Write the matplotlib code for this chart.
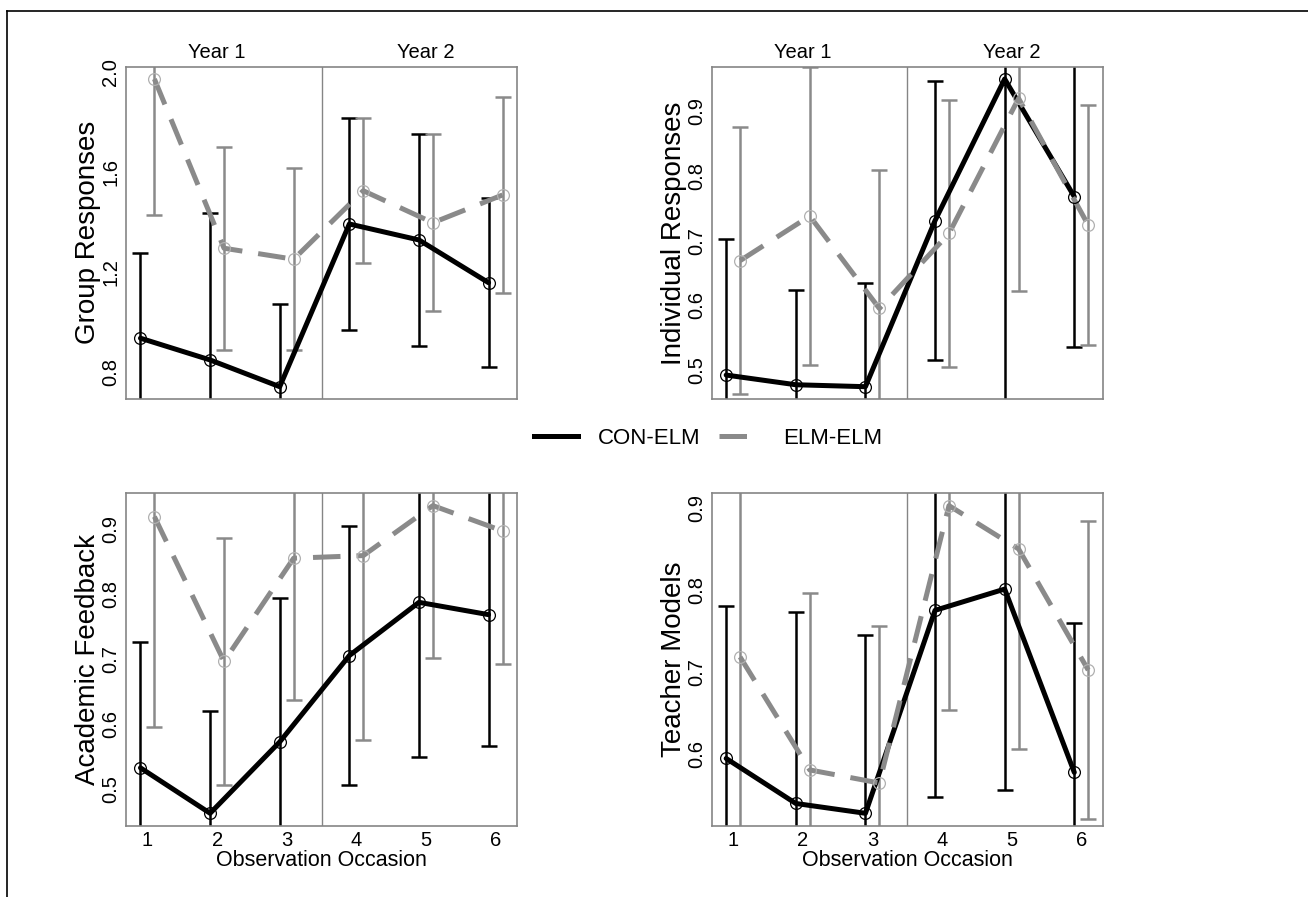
import numpy as np
import matplotlib
matplotlib.use('Agg')
import matplotlib.pyplot as plt
import matplotlib.transforms as mtransforms
from matplotlib.lines import Line2D

plt.rcParams['font.family'] = ['Liberation Sans', 'DejaVu Sans']

# observation occasions
occasion = np.array([1, 2, 3, 4, 5, 6])
xticks = [1, 2, 3, 4, 5, 6]
years = ['Year 1', 'Year 2']

# Group Responses
group_con = [0.934, 0.847, 0.740, 1.391, 1.327, 1.156]
group_con_err = [0.340, 0.589, 0.330, 0.423, 0.424, 0.338]
group_elm = [1.971, 1.294, 1.250, 1.524, 1.396, 1.507]
group_elm_err = [0.544, 0.406, 0.365, 0.290, 0.354, 0.391]

# Individual Responses
indiv_con = [0.492, 0.477, 0.474, 0.731, 0.950, 0.768]
indiv_con_err = [0.210, 0.147, 0.160, 0.216, 0.520, 0.232]
indiv_elm = [0.669, 0.738, 0.595, 0.711, 0.920, 0.724]
indiv_elm_err = [0.207, 0.231, 0.215, 0.206, 0.298, 0.186]

# Academic Feedback
feed_con = [0.532, 0.462, 0.572, 0.705, 0.787, 0.768]
feed_con_err = [0.194, 0.158, 0.221, 0.200, 0.239, 0.203]
feed_elm = [0.919, 0.696, 0.855, 0.859, 0.936, 0.897]
feed_elm_err = [0.324, 0.190, 0.218, 0.284, 0.235, 0.205]

# Teacher Models
model_con = [0.594, 0.539, 0.527, 0.775, 0.801, 0.577]
model_con_err = [0.186, 0.234, 0.218, 0.228, 0.246, 0.182]
model_elm = [0.718, 0.580, 0.564, 0.903, 0.850, 0.702]
model_elm_err = [0.250, 0.216, 0.192, 0.250, 0.244, 0.182]

panels = [
    ('Group Responses', group_con, group_con_err, group_elm, group_elm_err, [0.8, 1.2, 1.6, 2.0]),
    ('Individual Responses', indiv_con, indiv_con_err, indiv_elm, indiv_elm_err, [0.5, 0.6, 0.7, 0.8, 0.9]),
    ('Academic Feedback', feed_con, feed_con_err, feed_elm, feed_elm_err, [0.5, 0.6, 0.7, 0.8, 0.9]),
    ('Teacher Models', model_con, model_con_err, model_elm, model_elm_err, [0.6, 0.7, 0.8, 0.9]),
]

W, H = 1308, 897
fig = plt.figure(figsize=(W / 100, H / 100), dpi=100)

# axes rectangles in pixels: left, top
rects = [(126, 66.7), (711.7, 66.7), (126, 493.3), (711.7, 493.3)]
aw, ah = 391, 332.3

frame_col = '#858585'
elm_col = '#8a8a8a'
off = 0.1
dash = (5.5, 3.2)

for i, (name, con, con_err, elm, elm_err, yt) in enumerate(panels):
    left, top = rects[i]
    ax = fig.add_axes([left / W, 1 - (top + ah) / H, aw / W, ah / H])

    x_con = occasion - off
    x_elm = occasion + off

    ax.errorbar(x_con, con, yerr=con_err, fmt='none', ecolor='black',
                elinewidth=1.8, capsize=5.5, capthick=1.8, zorder=2)
    ax.errorbar(x_elm, elm, yerr=elm_err, fmt='none', ecolor=elm_col,
                elinewidth=1.8, capsize=5.5, capthick=1.8, zorder=2)

    ax.plot(x_con, con, color='black', lw=3.6, solid_capstyle='round', zorder=3)
    l2, = ax.plot(x_elm, elm, color=elm_col, lw=3.6, zorder=3)
    l2.set_dashes(dash)
    ax.plot(x_con, con, 'o', mfc='none', mec='black', ms=8.5, mew=0.9, zorder=4)
    ax.plot(x_elm, elm, 'o', mfc='none', mec='#b0b0b0', ms=8.5, mew=0.9, zorder=4)

    ax.axvline(3.5, color=frame_col, lw=1.0, zorder=1)

    # R style ranges: 4% padding
    xall = np.concatenate([x_con, x_elm])
    xr = xall.max() - xall.min()
    ax.set_xlim(xall.min() - 0.04 * xr, xall.max() + 0.04 * xr)
    yall = np.concatenate([con, elm])
    yr = yall.max() - yall.min()
    ax.set_ylim(yall.min() - 0.04 * yr, yall.max() + 0.04 * yr)

    ax.set_yticks(yt)
    ax.set_yticklabels(['%.1f' % v for v in yt], rotation=90, va='center')
    ax.set_xticks(xticks)
    ax.tick_params(length=0, labelsize=14.5, pad=4)
    ax.set_ylabel(name, fontsize=20, labelpad=0)

    for s in ax.spines.values():
        s.set_color(frame_col)
        s.set_linewidth(1.2)

    if i < 2:
        ax.tick_params(labelbottom=False)
        trans = mtransforms.blended_transform_factory(ax.transData, ax.transAxes)
        ax.text(2, 1.015, years[0], transform=trans, ha='center', va='bottom', fontsize=14.5)
        ax.text(5, 1.015, years[1], transform=trans, ha='center', va='bottom', fontsize=14.5)
    else:
        ax.set_xlabel('Observation Occasion', fontsize=15.5, labelpad=0)

# legend between rows
h_con = Line2D([], [], color='black', lw=3.6)
h_elm = Line2D([], [], color=elm_col, lw=3.6, dashes=(5.5, 6))
fig.legend([h_con, h_elm], ['CON-ELM', 'ELM-ELM'], loc='center',
           bbox_to_anchor=(708 / W, 1 - 438 / H), ncol=2, frameon=False,
           fontsize=16, handlelength=2.0, handletextpad=0.9, columnspacing=0.8)

# outer frame (top and left edges)
fig.add_artist(Line2D([7 / W, 1], [1 - 10.7 / H, 1 - 10.7 / H], color='black', lw=1.2))
fig.add_artist(Line2D([7 / W, 7 / W], [0, 1 - 10.7 / H], color='black', lw=1.2))

fig.savefig('out.png', dpi=100)
